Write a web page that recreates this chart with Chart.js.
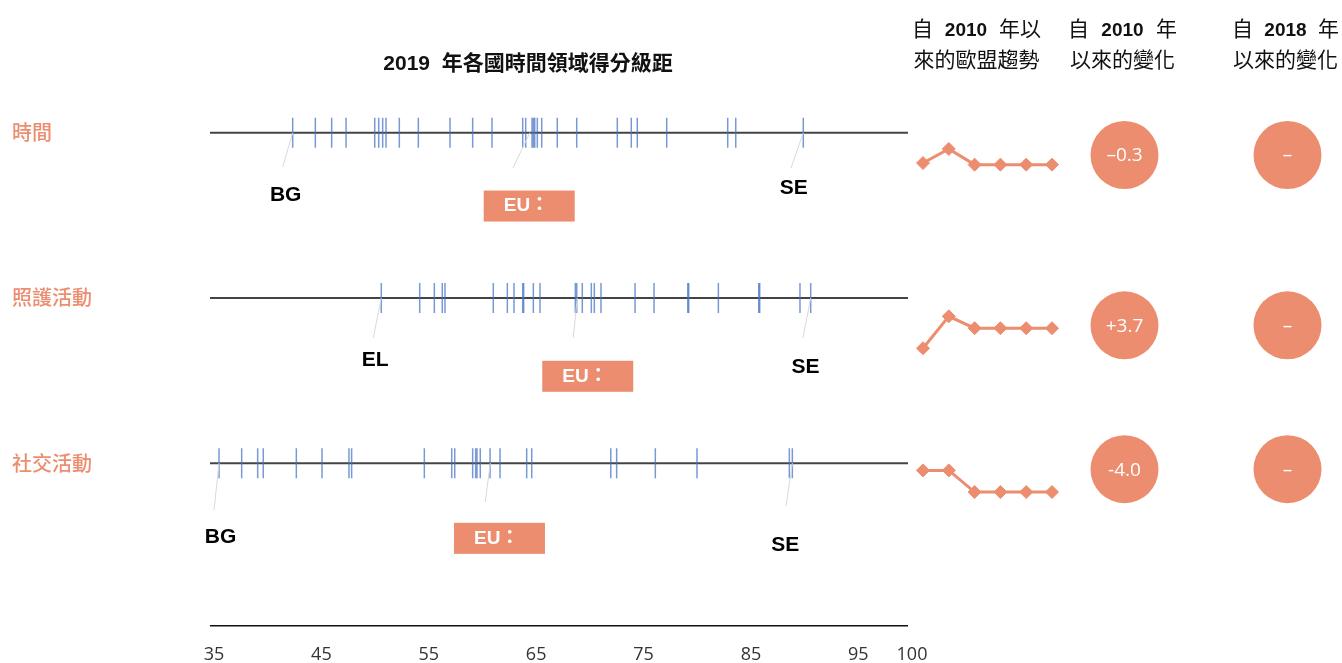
<!DOCTYPE html>
<html>
<head>
<meta charset="utf-8">
<script src="https://cdn.jsdelivr.net/npm/chart.js@4.4.1/dist/chart.umd.min.js"></script>
<style>
html,body{margin:0;padding:0;background:#fff;}
#wrap{position:relative;width:1342px;height:663px;overflow:hidden;}
#wrap canvas{position:absolute;}
.hdr{position:absolute;font-family:'Noto Sans CJK TC',sans-serif;font-size:21px;color:#111;line-height:28px;text-align:center;}
.hdr .l1{display:flex;justify-content:space-between;align-items:baseline;}
.hdr b{font-family:'Liberation Sans',sans-serif;font-weight:bold;font-size:19px;}
.title{position:absolute;left:328px;top:49px;width:400px;text-align:center;line-height:28px;font-family:'Liberation Sans','Noto Sans CJK TC',sans-serif;font-weight:bold;font-size:21px;color:#111;}
</style>
</head>
<body>
<div id="wrap">
  <canvas id="main" width="1342" height="663" style="left:0;top:0"></canvas>
  <canvas id="trend0" width="149" height="80" style="left:913px;top:123px"></canvas>
  <canvas id="trend1" width="149" height="80" style="left:913px;top:292px"></canvas>
  <canvas id="trend2" width="149" height="80" style="left:913px;top:445px"></canvas>
  <div class="title">2019&nbsp; 年各國時間領域得分級距</div>
  <div class="hdr" style="left:912px;top:13px;width:129px;">
    <div class="l1"><span>自</span><b>2010</b><span>年以</span></div>
    <div>來的歐盟趨勢</div>
  </div>
  <div class="hdr" style="left:1068px;top:13px;width:109px;">
    <div class="l1"><span>自</span><b>2010</b><span>年</span></div>
    <div>以來的變化</div>
  </div>
  <div class="hdr" style="left:1232px;top:13px;width:107px;">
    <div class="l1"><span>自</span><b>2018</b><span>年</span></div>
    <div>以來的變化</div>
  </div>
</div>
<script>
// ---------- DATA ----------
const categories = ['時間', '照護活動', '社交活動'];

const timeScores = [42.70, 44.81, 46.33, 47.67, 50.34, 50.71, 51.08, 51.39, 52.63, 54.40,
  57.35, 59.46, 61.26, 64.12, 64.40, 64.99, 65.11, 65.24, 65.48, 65.89,
  67.34, 69.15, 72.93, 74.23, 74.79, 77.53, 83.21, 83.96, 90.25];
const careScores = [50.95, 54.53, 55.89, 56.63, 56.88, 61.38, 62.69, 63.31, 64.12, 64.21,
  65.11, 65.73, 69.02, 69.15, 69.67, 70.51, 70.79, 71.41, 74.58, 76.35,
  79.49, 79.58, 82.34, 86.10, 86.19, 89.94, 90.94];
const socialScores = [35.84, 37.95, 39.44, 39.96, 43.04, 45.43, 47.94, 48.19, 54.96, 57.51,
  57.79, 59.46, 59.74, 59.86, 60.17, 61.08, 62.01, 64.49, 64.96, 72.32,
  72.87, 76.47, 80.35, 88.95, 89.23];

const minCountry = ['BG', 'EL', 'BG'];
const maxCountry = ['SE', 'SE', 'SE'];
const euScore = [64.8, 69.2, 61.1];
const euLabel = 'EU：';

const trendYears = ['2010', '2012', '2015', '2017', '2018', '2019'];
const trendTime = [66.0, 68.6, 65.7, 65.7, 65.7, 65.7];
const trendCare = [65.0, 70.9, 68.7, 68.7, 68.7, 68.7];
const trendSocial = [64.7, 64.7, 60.7, 60.7, 60.7, 60.7];

const changeSince2010 = ['–0.3', '+3.7', '-4.0'];
const changeSince2018 = ['–', '–', '–'];

const xTickValues = [35, 45, 55, 65, 75, 85, 95, 100];

// ---------- STYLE ----------
const SALMON = '#EC8D6F';
const TICK_BLUE = 'rgba(68,114,196,0.72)';

const rowScores = [timeScores, careScores, socialScores];

const datasets = [];
rowScores.forEach((scores, r) => {
  datasets.push({
    type: 'scatter',
    data: scores.map(v => ({x: v, y: r})),
    pointStyle: 'line',
    rotation: 90,
    radius: 15,
    borderColor: TICK_BLUE,
    borderWidth: 1.5,
    order: 1
  });
});
rowScores.forEach((scores, r) => {
  datasets.push({
    type: 'line',
    data: [{x: 35, y: r}, {x: 100, y: r}],
    borderColor: '#444',
    borderWidth: 2,
    pointRadius: 0,
    order: 2
  });
});
// bottom axis line
datasets.push({
  type: 'line',
  data: [{x: 35, y: 2.984}, {x: 100, y: 2.984}],
  borderColor: '#111',
  borderWidth: 1.5,
  pointRadius: 0,
  order: 2
});

const annotLayout = [
  {min: {dx: -7, dy: 62.4, ldx: -10, ldy: 34.4}, max: {dx: -9.6, dy: 55.7, ldx: -12.3, ldy: 35.4}, eu: {dx: -0.8, dy: 73.4, ldx: -17, ldy: 35}},
  {min: {dx: -6, dy: 62.4, ldx: -8, ldy: 40}, max: {dx: -5.2, dy: 69.4, ldx: -7.7, ldy: 40}, eu: {dx: 10.5, dy: 78.4, ldx: -4, ldy: 40}},
  {min: {dx: 1.5, dy: 74.4, ldx: -5, ldy: 47}, max: {dx: -7, dy: 82, ldx: -6.3, ldy: 43}, eu: {dx: 9.2, dy: 75.2, ldx: -5, ldy: 39}}
];
const circleX = [1124.5, 1287.5];
const circleY = [155, 325.3, 469.2];

const annotPlugin = {
  id: 'annot',
  afterDatasetsDraw(chart) {
    const ctx = chart.ctx;
    const xs = chart.scales.x, ys = chart.scales.y;
    ctx.save();
    rowScores.forEach((scores, r) => {
      const y0 = ys.getPixelForValue(r);
      const lay = annotLayout[r];
      const items = [
        {v: Math.min(...scores), text: minCountry[r], l: lay.min, eu: false},
        {v: Math.max(...scores), text: maxCountry[r], l: lay.max, eu: false},
        {v: euScore[r], text: euLabel, l: lay.eu, eu: true}
      ];
      items.forEach(it => {
        const px = xs.getPixelForValue(it.v);
        ctx.strokeStyle = '#d9d9d9';
        ctx.lineWidth = 1;
        ctx.beginPath();
        ctx.moveTo(px, y0);
        ctx.lineTo(px + it.l.ldx, y0 + it.l.ldy);
        ctx.stroke();
        const cx = px + it.l.dx, cy = y0 + it.l.dy;
        if (it.eu) {
          ctx.fillStyle = SALMON;
          ctx.fillRect(cx - 45.5, cy - 15.5, 91, 31);
          ctx.fillStyle = '#fff';
          ctx.font = "bold 19px 'Liberation Sans', 'Noto Sans CJK TC', sans-serif";
          ctx.textAlign = 'left';
          ctx.textBaseline = 'middle';
          ctx.fillText(it.text, cx - 45.5 + 20, cy);
        } else {
          ctx.fillStyle = '#000';
          ctx.font = "bold 21px 'Liberation Sans', sans-serif";
          ctx.textAlign = 'center';
          ctx.textBaseline = 'middle';
          ctx.fillText(it.text, cx, cy);
        }
      });
      [changeSince2010, changeSince2018].forEach((arr, c) => {
        ctx.fillStyle = SALMON;
        ctx.beginPath();
        ctx.arc(circleX[c], circleY[r], 34, 0, Math.PI * 2);
        ctx.fill();
        ctx.fillStyle = '#fff';
        ctx.font = "19px 'Open Sans', sans-serif";
        ctx.textAlign = 'center';
        ctx.textBaseline = 'middle';
        ctx.fillText(arr[r], circleX[c], circleY[r] + 1);
      });
    });
    ctx.restore();
  }
};

new Chart(document.getElementById('main'), {
  type: 'scatter',
  data: {datasets},
  options: {
    responsive: false,
    animation: false,
    devicePixelRatio: 1,
    events: [],
    layout: {padding: {left: 12, right: 434, top: 50, bottom: 0}},
    plugins: {legend: {display: false}, tooltip: {enabled: false}},
    scales: {
      x: {
        type: 'linear', min: 35, max: 100,
        grid: {display: false, drawTicks: false},
        border: {display: false},
        afterBuildTicks: (s) => { s.ticks = xTickValues.map(v => ({value: v})); },
        afterFit: (s) => { s.height = 34.6; },
        ticks: {
          padding: 15.5,
          labelOffset: 4,
          color: '#333',
          font: {family: "'Open Sans', sans-serif", size: 18},
          callback: (v) => String(v),
          autoSkip: false,
          maxRotation: 0
        }
      },
      y: {
        type: 'linear', min: -0.5, max: 3.0, reverse: true,
        grid: {display: false, drawTicks: false},
        border: {display: false},
        afterBuildTicks: (s) => { s.ticks = categories.map((c, i) => ({value: i})); },
        afterFit: (s) => { s.width = 198; },
        ticks: {
          crossAlign: 'far',
          padding: 0,
          color: SALMON,
          font: {family: "'Noto Sans CJK TC', sans-serif", size: 20, weight: '500'},
          callback: (v) => categories[v] || ''
        }
      }
    }
  },
  plugins: [annotPlugin]
});

const trendSets = [
  {id: 'trend0', data: trendTime, min: 60, max: 72},
  {id: 'trend1', data: trendCare, min: 62, max: 74},
  {id: 'trend2', data: trendSocial, min: 56, max: 68}
];
trendSets.forEach(t => {
  new Chart(document.getElementById(t.id), {
    type: 'line',
    data: {
      labels: trendYears,
      datasets: [{
        data: t.data,
        borderColor: SALMON,
        borderWidth: 3,
        pointStyle: 'rectRot',
        pointRadius: 6.5,
        pointBackgroundColor: SALMON,
        pointBorderColor: SALMON,
        pointBorderWidth: 1,
        clip: false,
        tension: 0
      }]
    },
    options: {
      responsive: false,
      animation: false,
      devicePixelRatio: 1,
      events: [],
      layout: {padding: {left: 10, right: 10, top: 0, bottom: 0}},
      plugins: {legend: {display: false}, tooltip: {enabled: false}},
      scales: {
        x: {type: 'category', offset: false, display: false},
        y: {display: false, min: t.min, max: t.max}
      }
    }
  });
});
</script>
</body>
</html>
